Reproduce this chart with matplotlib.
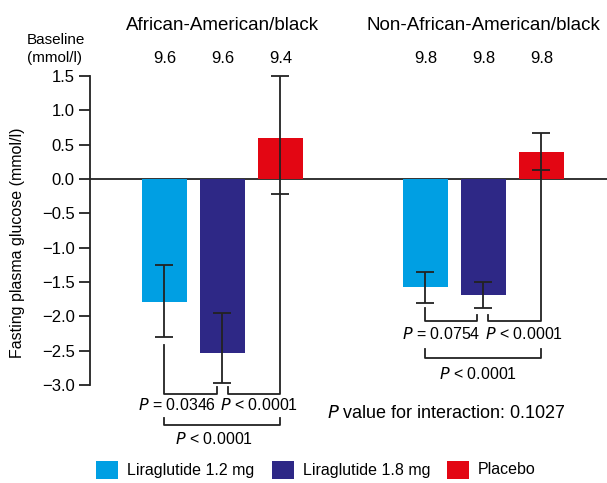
import matplotlib.pyplot as plt
from matplotlib.patches import Rectangle

plt.rcParams['font.family'] = ['Liberation Sans', 'DejaVu Sans']

# data
groups = ["African-American/black", "Non-African-American/black"]
treatments = ["Liraglutide 1.2 mg", "Liraglutide 1.8 mg", "Placebo"]
colors = ['#009FE3', '#2E2886', '#E30613']
baseline = [["9.6", "9.6", "9.4"], ["9.8", "9.8", "9.8"]]
change = [[-1.79, -2.53, 0.59], [-1.58, -1.69, 0.40]]
err_low = [[-2.30, -2.97, -0.22], [-1.80, -1.88, 0.13]]
err_high = [[-1.25, -1.95, 1.50], [-1.36, -1.50, 0.67]]
p_pairs = [["P = 0.0346", "P < 0.0001"], ["P = 0.0754", "P < 0.0001"]]
p_outer = ["P < 0.0001", "P < 0.0001"]
p_interaction = "0.1027"

group_start = [0.0, 4.5]
bw = 0.78

fig = plt.figure(figsize=(6.07, 4.83), dpi=100)
ax = fig.add_axes([90 / 607, 98 / 483, 517 / 607, 309 / 483])
ax.set_xlim(-1.284, 7.63)
ax.set_ylim(-3.0, 1.5)

for g in range(2):
    xs = [group_start[g] + i for i in range(3)]
    ax.bar(xs, change[g], width=bw, color=colors, zorder=2)
    for i, x in enumerate(xs):
        lo = change[g][i] - err_low[g][i]
        hi = err_high[g][i] - change[g][i]
        ax.errorbar(x, change[g][i], yerr=[[lo], [hi]], fmt='none',
                    ecolor='#222222', elinewidth=1.3, capsize=6.5,
                    capthick=1.3, zorder=3, clip_on=False)
        ax.text(x, 1.76, baseline[g][i], ha='center', va='center', fontsize=12)
    ax.text(xs[1], 2.23, groups[g], ha='center', va='center', fontsize=13.5)

ax.axhline(0, color='#222222', lw=1.3, zorder=1)

lk = dict(color='#222222', lw=1.3, clip_on=False, zorder=3)
# left group brackets
ax.plot([0, 0, 0.905, 0.905], [-2.42, -3.13, -3.13, -3.03], **lk)
ax.plot([1.095, 1.095, 2.0, 2.0], [-3.03, -3.13, -3.13, -0.22], **lk)
ax.plot([0, 0, 2.0, 2.0], [-3.48, -3.58, -3.58, -3.48], **lk)
# right group brackets
ax.plot([4.5, 4.5, 5.39, 5.39], [-1.88, -2.07, -2.07, -1.98], **lk)
ax.plot([5.58, 5.58, 6.5, 6.5], [-1.98, -2.07, -2.07, 0.13], **lk)
ax.plot([4.5, 4.5, 6.5, 6.5], [-2.47, -2.60, -2.60, -2.47], **lk)


def ptext(x, y, s, size=11.5):
    ax.text(x, y, r"$\it{P}$" + s[1:], ha='center', va='center', fontsize=size,
            clip_on=False)


# text offsets inside each group: pair left, pair right, outer
offsets = [(0.22, 1.63, 0.86), (0.276, 1.707, 0.905)]
for g, (row_y, out_y) in enumerate([(-3.29, -3.78), (-2.26, -2.84)]):
    x0 = group_start[g]
    a, b, c = offsets[g]
    ptext(x0 + a, row_y, p_pairs[g][0])
    ptext(x0 + b, row_y, p_pairs[g][1])
    ptext(x0 + c, out_y, p_outer[g])

ax.text(4.87, -3.41, r"$\it{P}$ value for interaction: " + p_interaction,
        ha='center', va='center', fontsize=13)

for s in ['top', 'right', 'bottom']:
    ax.spines[s].set_visible(False)
ax.spines['left'].set_linewidth(1.3)
ax.spines['left'].set_color('#222222')
ax.set_xticks([])
ax.set_yticks([1.5, 1.0, 0.5, 0.0, -0.5, -1.0, -1.5, -2.0, -2.5, -3.0])
ax.set_yticklabels(["%.1f" % v if v >= 0 else "\u2212%.1f" % -v for v in ax.get_yticks()])
ax.tick_params(axis='y', length=8, width=1.3, color='#222222', labelsize=12, pad=3)

fig.text(18 / 607, 1 - 243 / 483, "Fasting plasma glucose (mmol/l)", rotation=90,
         ha='center', va='center', fontsize=11.5)
fig.text(27 / 607, 1 - 40 / 483, "Baseline", ha='left', va='center', fontsize=11)
fig.text(27 / 607, 1 - 58 / 483, "(mmol/l)", ha='left', va='center', fontsize=11)

# legend drawn by hand to match spacing
leg_x = [96, 272, 447]
for c, lab, x in zip(colors, treatments, leg_x):
    fig.add_artist(Rectangle((x / 607, 1 - 479 / 483), 22 / 607, 18 / 483,
                             transform=fig.transFigure, facecolor=c, edgecolor='none'))
    fig.text((x + 31) / 607, 1 - 470 / 483, lab, ha='left', va='center', fontsize=11.5)

fig.savefig("out.png", dpi=100)
